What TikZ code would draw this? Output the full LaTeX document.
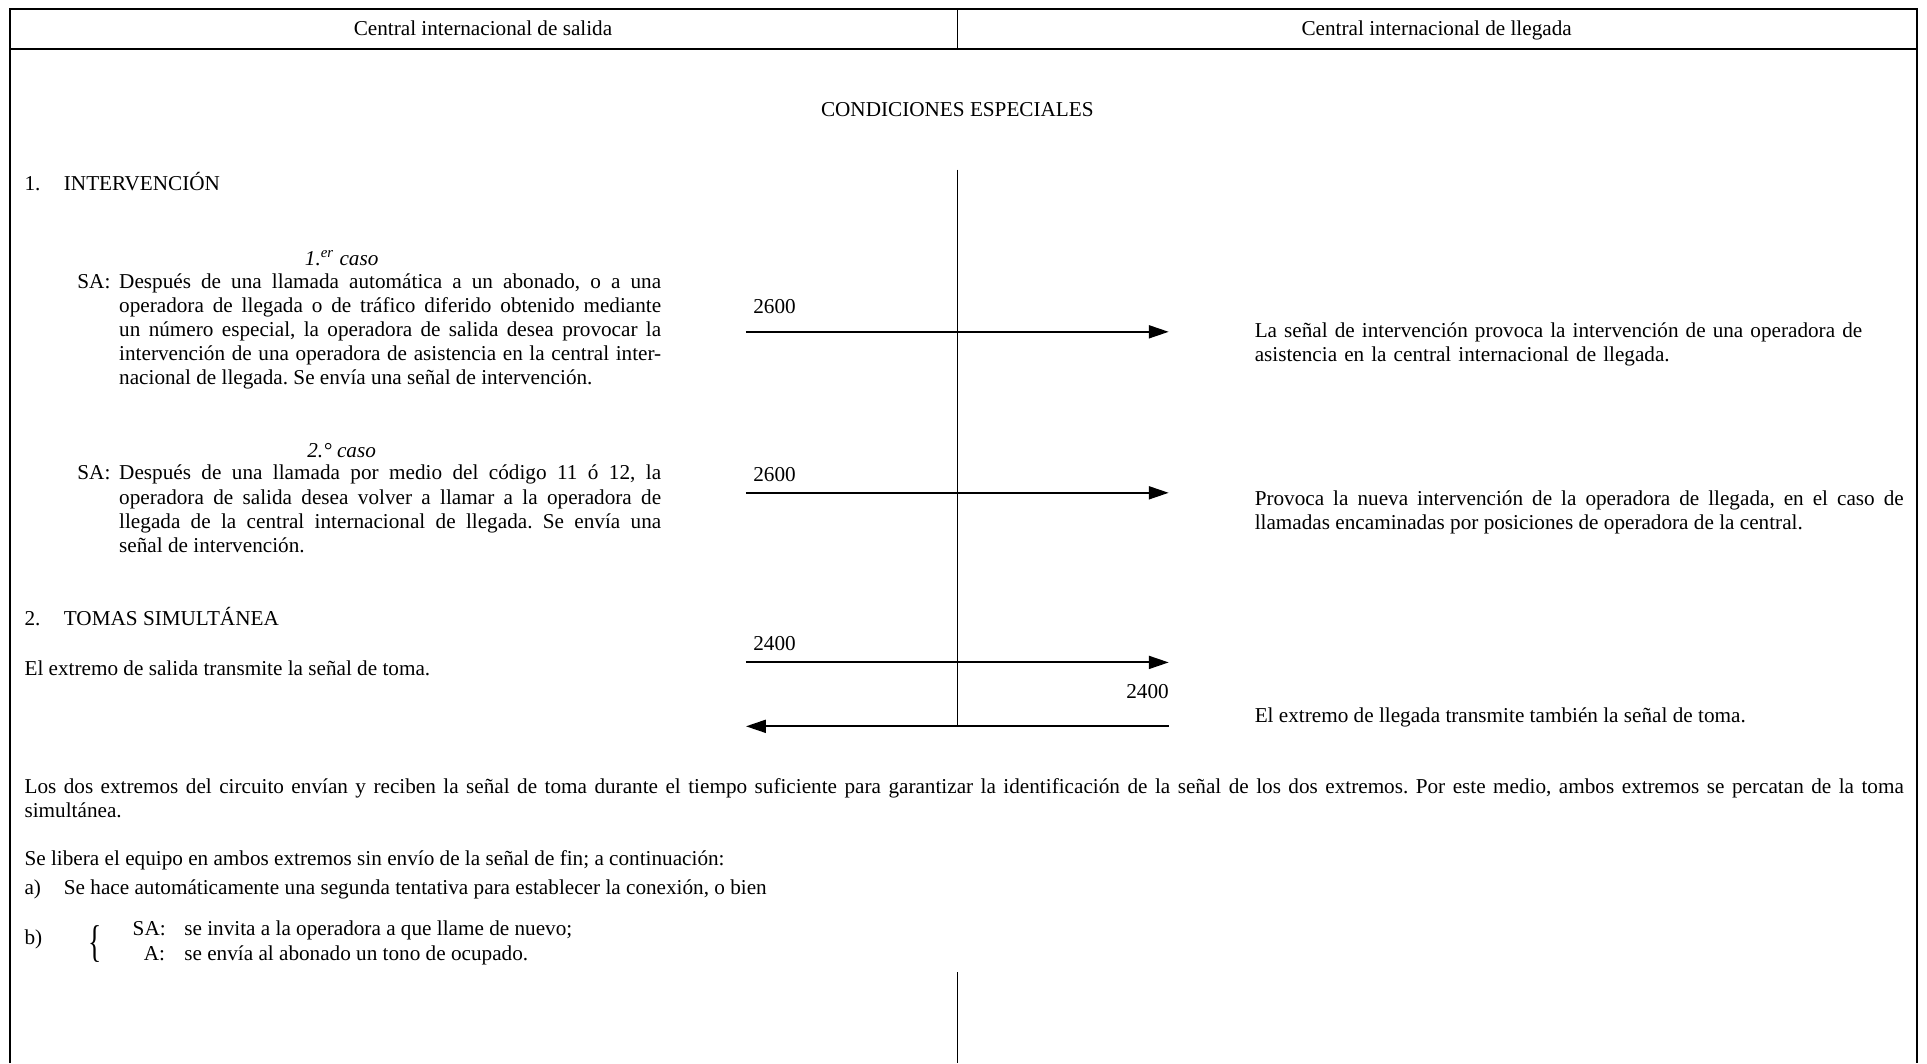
\documentclass[tikz,border=0pt]{standalone}
\usepackage{fontspec}
\usepackage{graphicx}
\setmainfont{Liberation Serif}
\usetikzlibrary{arrows.meta}
\frenchspacing
\begin{document}
\begin{tikzpicture}[x=0.6145pt,y=-0.6145pt,
  every node/.style={inner sep=0pt, outer sep=0pt, font=\fontsize{10.6}{12.1}\selectfont\frenchspacing},
  frame/.style={line width=1.1pt},
  sig/.style={line width=1pt, -{Triangle[length=10pt,width=6.5pt]}},
  axis/.style={line width=0.6pt},
  lbl/.style={anchor=base west},
  para/.style={anchor=base west, align=justify},
]
\useasboundingbox (0,0) rectangle (1568,865);
% frame
\coordinate (fbl) at (8,865);
\coordinate (ftl) at (8,7);
\coordinate (ftr) at (1560,7);
\coordinate (fbr) at (1560,865);
\coordinate (hl) at (8,40);
\coordinate (hr) at (1560,40);
\coordinate (ht) at (779,7);
\coordinate (hb) at (779,40);
\draw[frame] (fbl) -- (ftl) -- (ftr) -- (fbr);
\draw[frame] (hl) -- (hr);
\draw[axis] (ht) -- (hb);
\node[anchor=base] (h1) at (393,28.5) {Central internacional de salida};
\node[anchor=base] (h2) at (1169,28.5) {Central internacional de llegada};
\node[anchor=base] (cond) at (779,95) {CONDICIONES ESPECIALES};
% centre lines
\coordinate (v1t) at (779,138);
\coordinate (v1b) at (779,591);
\coordinate (v2t) at (779,791);
\coordinate (v2b) at (779,865);
\draw[axis] (v1t) -- (v1b);
\draw[axis] (v2t) -- (v2b);
% section 1
\node[lbl] (n1) at (20,155) {1.};
\node[lbl] (s1) at (52,155) {INTERVENCIÓN};
\node[anchor=base] (c1) at (278,216) {\itshape 1.\textsuperscript{er} caso};
\node[lbl] (sa1) at (63,234.5) {SA:};
\node[para, text width=271pt] (p1) at (97,234.5) {Después de una llamada automática a un abonado, o a una\linebreak
operadora de llegada o de tráfico diferido obtenido mediante\linebreak
un número especial, la operadora de salida desea provocar la\linebreak
intervención de una operadora de asistencia en la central inter-\linebreak
nacional de llegada. Se envía una señal de intervención.};
\node[lbl] (f1) at (613,255) {2600};
\coordinate (a1s) at (607,270);
\coordinate (a1e) at (951,270);
\draw[sig] (a1s) -- (a1e);
\node[anchor=base west, text width=340pt, align=left] (r1) at (1021,274.5) {La señal de intervención provoca la intervención de una operadora de\\
asistencia en la central internacional de llegada.};
% case 2
\node[anchor=base] (c2) at (278,372) {\itshape 2.° caso};
\node[lbl] (sa2) at (63,390.5) {SA:};
\node[para, text width=271pt] (p2) at (97,390.5) {Después de una llamada por medio del código 11 ó 12, la\linebreak
operadora de salida desea volver a llamar a la operadora de\linebreak
llegada de la central internacional de llegada. Se envía una\linebreak
señal de intervención.};
\node[lbl] (f2) at (613,392) {2600};
\coordinate (a2s) at (607,401);
\coordinate (a2e) at (951,401);
\draw[sig] (a2s) -- (a2e);
\node[para, text width=324.5pt] (r2) at (1021,411.5) {Provoca la nueva intervención de la operadora de llegada, en el caso de\linebreak
llamadas encaminadas por posiciones de operadora de la central.};
% section 2
\node[lbl] (n2) at (20,509) {2.};
\node[lbl] (s2) at (52,509) {TOMAS SIMULTÁNEA};
\node[lbl] (f3) at (613,529) {2400};
\coordinate (a3s) at (607,539);
\coordinate (a3e) at (951,539);
\draw[sig] (a3s) -- (a3e);
\node[lbl] (t3) at (20,549.5) {El extremo de salida transmite la señal de toma.};
\node[anchor=base east] (f4) at (951,568) {2400};
\coordinate (a4s) at (951,591);
\coordinate (a4e) at (607,591);
\draw[sig] (a4s) -- (a4e);
\node[lbl] (t4) at (1021,587.5) {El extremo de llegada transmite también la señal de toma.};
% bottom text
\node[para, text width=939.6pt] (los) at (20,645.5) {Los dos extremos del circuito envían y reciben la señal de toma durante el tiempo suficiente para garantizar la identificación de la señal de los dos extremos. Por este medio, ambos extremos se percatan de la toma\linebreak
simultánea.};
\node[lbl] (lib) at (20,704.5) {Se libera el equipo en ambos extremos sin envío de la señal de fin; a continuación:};
\node[lbl] (ia) at (20,727.5) {a)};
\node[lbl] (ta) at (52,727.5) {Se hace automáticamente una segunda tentativa para establecer la conexión, o bien};
\node[lbl] (ib) at (20,768.5) {b)};
\node (br) at (77,768) {\scalebox{1.3}[2.1]{\{}};
\node[lbl] (bsa) at (108,761.5) {SA:};
\node[lbl] (bt1) at (150,761.5) {se invita a la operadora a que llame de nuevo;};
\node[lbl] (ba) at (117,781.5) {A:};
\node[lbl] (bt2) at (150,781.5) {se envía al abonado un tono de ocupado.};
\end{tikzpicture}
\end{document}
